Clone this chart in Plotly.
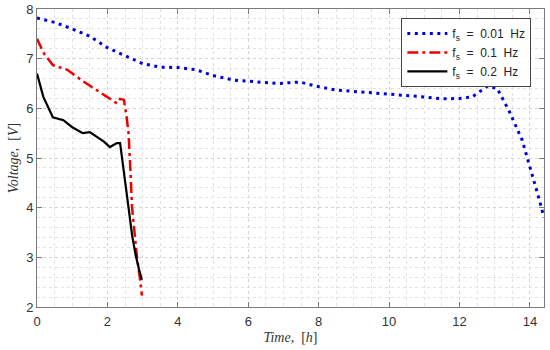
import plotly.graph_objects as go

# f_s = 0.01 Hz
t1 = [0.0, 0.5, 1.0, 1.5, 2.0, 2.45, 3.0, 3.5, 4.0, 4.5, 5.0, 5.57, 6.0, 6.5, 6.85,
      7.47, 7.9, 8.47, 9.0, 9.6, 10.0, 10.54, 11.0, 11.5, 12.0, 12.36, 12.6, 12.8,
      13.07, 13.4, 13.78, 14.06, 14.25, 14.4]
v1 = [7.82, 7.73, 7.6, 7.45, 7.22, 7.07, 6.9, 6.83, 6.82, 6.78, 6.66, 6.57, 6.55, 6.52, 6.5,
      6.53, 6.45, 6.37, 6.34, 6.31, 6.29, 6.25, 6.23, 6.19, 6.2, 6.23, 6.35, 6.45,
      6.4, 5.96, 5.36, 4.69, 4.2, 3.8]

# f_s = 0.1 Hz
t2 = [0.0, 0.2, 0.45, 0.85, 1.3, 1.8, 2.27, 2.36, 2.47, 2.55, 2.6, 2.65, 2.7, 2.77,
      2.84, 2.92, 2.98]
v2 = [7.4, 7.1, 6.87, 6.78, 6.55, 6.32, 6.1, 6.19, 6.17, 5.8, 5.5, 4.8, 4.0, 3.5,
      3.0, 2.6, 2.23]

# f_s = 0.2 Hz
t3 = [0.0, 0.18, 0.45, 0.75, 1.0, 1.3, 1.5, 1.7, 1.9, 2.07, 2.27, 2.36, 2.42, 2.5,
      2.6, 2.7, 2.8, 2.9, 2.98]
v3 = [6.7, 6.23, 5.82, 5.76, 5.62, 5.5, 5.52, 5.42, 5.33, 5.22, 5.3, 5.3, 5.0, 4.55,
      4.0, 3.45, 3.05, 2.75, 2.55]

names = ["f<sub>s</sub>  =  0.01  Hz", "f<sub>s</sub>  =  0.1  Hz", "f<sub>s</sub>  =  0.2  Hz"]

fig = go.Figure()
fig.add_trace(go.Scatter(x=t1, y=v1, mode="lines", name=names[0],
                         line=dict(color="#0000dd", width=3, dash="3px,4.5px")))
fig.add_trace(go.Scatter(x=t2, y=v2, mode="lines", name=names[1],
                         line=dict(color="#ee0000", width=2.5, dash="11px,4px,3px,4px")))
fig.add_trace(go.Scatter(x=t3, y=v3, mode="lines", name=names[2],
                         line=dict(color="black", width=2.2)))

axis_common = dict(
    showline=True, linecolor="#7a7a7a", linewidth=1, mirror="ticks",
    ticks="inside", ticklen=5, tickcolor="#7a7a7a",
    showgrid=True, gridcolor="#d4d4d4", griddash="dot", gridwidth=1,
    zeroline=False, automargin=False,
    tickfont=dict(family="Liberation Sans, Arial", size=13, color="#333333"),
)

fig.update_xaxes(range=[0, 14.4], dtick=2, tick0=0, ticklabelstandoff=2,
                 minor=dict(dtick=0.5, showgrid=True, gridcolor="#e2e2e2", griddash="dot"),
                 title=dict(text="<i>Time,</i>  [<i>h</i>]", standoff=4,
                            font=dict(family="Liberation Serif, Times New Roman", size=14, color="#333333")),
                 **axis_common)
fig.update_yaxes(range=[2, 8], dtick=1, tick0=2,
                 minor=dict(dtick=0.2, showgrid=True, gridcolor="#e2e2e2", griddash="dot"),
                 title=dict(text="<i>Voltage,</i>  [<i>V</i>]", standoff=4,
                            font=dict(family="Liberation Serif, Times New Roman", size=14, color="#333333")),
                 **axis_common)

fig.update_layout(
    width=550, height=350,
    margin=dict(l=37, r=6, t=9, b=43),
    plot_bgcolor="white", paper_bgcolor="white",
    showlegend=True,
    legend=dict(x=0.975, y=0.97, xanchor="right", yanchor="top",
                bgcolor="white", bordercolor="#444444", borderwidth=1,
                font=dict(family="Liberation Sans, Arial", size=12, color="#222222"),
                itemwidth=40, tracegroupgap=0),
)

fig.write_html("out.html", config={"displayModeBar": False})

# remove default page margin so the figure sits at the window's top-left corner
with open("out.html", "r", encoding="utf-8") as f:
    html = f.read()
html = html.replace("<head>", "<head><style>html,body{margin:0;padding:0;overflow:hidden;}</style>", 1)
with open("out.html", "w", encoding="utf-8") as f:
    f.write(html)
